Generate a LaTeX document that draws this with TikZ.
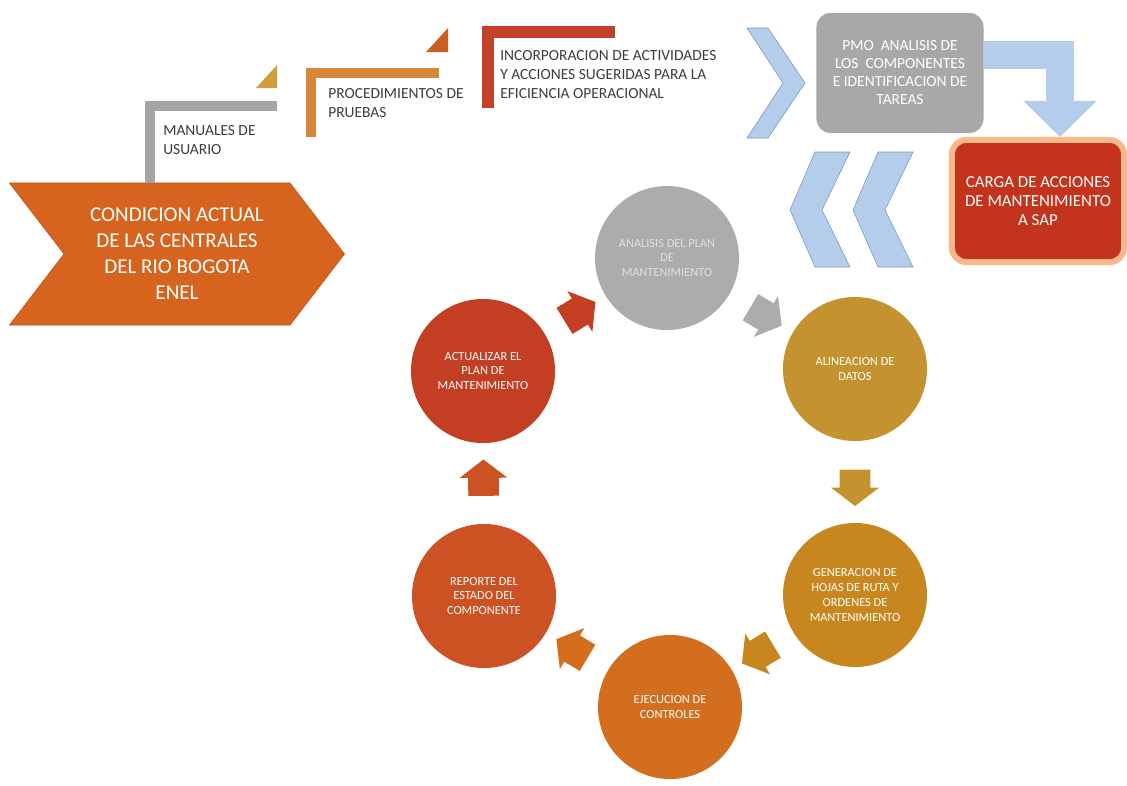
\documentclass[tikz,border=0pt]{standalone}
\usepackage{fontspec}
\setmainfont{Carlito}
\usetikzlibrary{
    shapes.symbols,
    shapes.arrows,
    arrows.meta,
    positioning,
    calc
}
\definecolor{condorange}{RGB}{215, 100, 30}
\definecolor{textgray}{RGB}{60, 60, 60}
\definecolor{lgray}{RGB}{165, 165, 165}
\definecolor{lorange}{RGB}{215, 135, 55}
\definecolor{lred}{RGB}{195, 65, 40}
\definecolor{tgold}{RGB}{205, 160, 60}
\definecolor{tbrown}{RGB}{200, 95, 35}
\definecolor{chevblue}{RGB}{180, 205, 235}
\definecolor{chevedge}{RGB}{120, 150, 190}
\definecolor{pmogray}{RGB}{168, 168, 168}
\definecolor{cargared}{RGB}{196, 52, 28}
\definecolor{cargaglow}{RGB}{250, 185, 140}
\definecolor{cgray}{RGB}{172, 172, 172}
\definecolor{cgold}{RGB}{196, 146, 46}
\definecolor{cgoldb}{RGB}{200, 135, 30}
\definecolor{corange}{RGB}{210, 110, 30}
\definecolor{crust}{RGB}{205, 82, 35}
\definecolor{cred}{RGB}{195, 62, 35}
\newcommand{\arrowbody}{\phantom{\vrule width 0.6cm height 0.375cm depth 0.375cm}}

\begin{document}
\begin{tikzpicture}[
        x=0.025cm, y=-0.025cm,
        stage/.style={circle, minimum size=3.6cm, align=center, text=white, inner sep=1pt, font=\fontsize{8.8}{10.5}\selectfont},
        blockarrow/.style={single arrow, single arrow tip angle=105, single arrow head extend=0.215cm, inner sep=0pt, minimum width=1cm, sloped, allow upside down},
        steplabel/.style={anchor=north west, align=left, text=textgray, inner sep=0pt, font=\fontsize{11}{13.5}\selectfont},
        panel/.style={rectangle, rounded corners=0.35cm, align=center, text=white}
    ]
        \useasboundingbox (0,0) rectangle (1127,785);

        % Left: current condition chevron
        \node[signal, signal from=west, signal to=east, signal pointer angle=105,
              minimum width=8.375cm, minimum height=3.55cm, fill=condorange, draw=condorange!85!black,
              align=center, text=white, font=\fontsize{15}{18.5}\selectfont] (cond) at (177,254)
              {CONDICION ACTUAL\\DE LAS CENTRALES\\DEL RIO BOGOTA\\ENEL};

        % Steps: documents
        \draw[line width=0.23cm, lgray] (150,183) |- (277,106);
        \fill[tgold] (256,88) -- (277,88) -- (277,65) -- cycle;
        \node[steplabel] (man) at (163,125) {MANUALES DE\\USUARIO};

        \draw[line width=0.25cm, lorange] (311,137) |- (439,73);
        \fill[tbrown] (426,52) -- (448,52) -- (448,28) -- cycle;
        \node[steplabel] (proc) at (328,88) {PROCEDIMIENTOS DE\\PRUEBAS};

        \draw[line width=0.3cm, lred] (488,108) |- (615,32);
        \node[steplabel] (inc) at (500,50) {INCORPORACION DE ACTIVIDADES\\Y ACCIONES SUGERIDAS PARA LA\\EFICIENCIA OPERACIONAL};

        % Right: PMO and SAP
        \fill[chevblue, draw=chevedge] (747,28) -- (768,28) -- (805,83) -- (768,138) -- (747,138) -- (783,83) -- cycle;
        \node[panel, fill=pmogray, minimum width=4.175cm, minimum height=3cm, font=\fontsize{11}{12.8}\selectfont] (pmo) at (900,73)
              {PMO\ \ ANALISIS DE\\LOS\ \ COMPONENTES\\E IDENTIFICACION DE\\TAREAS};
        \node[panel, fill=cargared, draw=cargaglow, line width=0.15cm, minimum width=4.3cm, minimum height=3.05cm, font=\fontsize{12}{13.8}\selectfont] (carga) at (1038,201)
              {CARGA DE ACCIONES\\DE MANTENIMIENTO\\A SAP};
        \draw[line width=0.68cm, chevblue, -{Triangle[width=1.78cm, length=0.9cm]}] ([yshift=0.45cm]pmo.east) -| ([xshift=0.55cm]carga.north);
        \foreach \dx in {0,63}
            \fill[chevblue, draw=chevedge, shift={(\dx,0)}] (815,152) -- (850,152) -- (822,210) -- (850,267) -- (815,267) -- (790,210) -- cycle;

        % Maintenance cycle
        \node[stage, fill=cgray, text=white!88!black] (ana) at (667,258) {ANALISIS DEL PLAN\\DE\\MANTENIMIENTO};
        \node[stage, fill=cgold] (ali) at (855,369) {ALINEACION DE\\DATOS};
        \node[stage, fill=cgoldb] (gen) at (855,595) {GENERACION DE\\HOJAS DE RUTA Y\\ORDENES DE\\MANTENIMIENTO};
        \node[stage, fill=corange] (eje) at (670,707) {EJECUCION DE\\CONTROLES};
        \node[stage, fill=crust] (rep) at (484,596) {REPORTE DEL\\ESTADO DEL\\COMPONENTE};
        \node[stage, fill=cred] (act) at (483,371) {ACTUALIZAR EL\\PLAN DE\\MANTENIMIENTO};

        % Arrows between stages
        \path (act) -- node[blockarrow, fill=cred] (a1) {\arrowbody} (ana);
        \path (ana) -- node[blockarrow, fill=cgray] (a2) {\arrowbody} (ali);
        \path (ali) -- node[blockarrow, fill=cgold] (a3) {\arrowbody} (gen);
        \path (gen) -- node[blockarrow, fill=cgoldb] (a4) {\arrowbody} (eje);
        \path (eje) -- node[blockarrow, fill=corange] (a5) {\arrowbody} (rep);
        \path (rep) -- node[blockarrow, fill=crust] (a6) {\arrowbody} (act);
    \end{tikzpicture}
\end{document}
